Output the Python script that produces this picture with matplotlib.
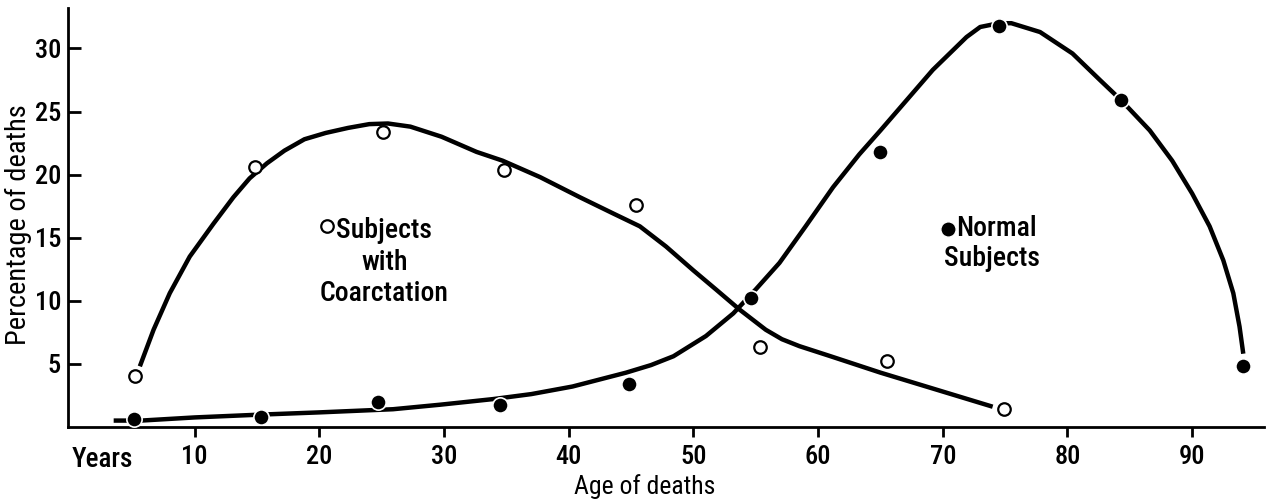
import matplotlib
matplotlib.use("Agg")
import matplotlib.pyplot as plt

plt.rcParams['font.family'] = ['Roboto Condensed', 'DejaVu Sans']
plt.rcParams['font.stretch'] = 'condensed'
plt.rcParams['font.weight'] = 'medium'

# measured points
coarct_x = [5.2, 14.8, 25.1, 34.8, 45.4, 55.3, 65.5, 74.9]
coarct_y = [4.0, 20.6, 23.4, 20.4, 17.6, 6.3, 5.2, 1.4]

normal_x = [5.1, 15.3, 24.7, 34.5, 44.8, 54.6, 65.0, 74.5, 84.3, 94.1]
normal_y = [0.65, 0.8, 1.95, 1.7, 3.4, 10.2, 21.8, 31.8, 25.9, 4.8]

# hand drawn curves
coarct_curve_x = [5.6, 6.7, 8.0, 9.6, 11.5, 13.1, 14.4, 15.8, 17.2, 18.8, 20.5, 22.3,
                  24.0, 25.5, 27.3, 29.8, 32.6, 34.7, 37.7, 40.9, 43.6, 45.7, 47.8,
                  50.0, 51.8, 53.7, 55.8, 57.1, 58.5, 61.0, 65.0, 74.0]
coarct_curve_y = [4.8, 7.7, 10.6, 13.5, 16.1, 18.2, 19.7, 20.9, 21.9, 22.8, 23.3, 23.7,
                  24.0, 24.05, 23.8, 23.0, 21.8, 21.1, 19.8, 18.2, 16.9, 15.9, 14.3,
                  12.4, 10.9, 9.3, 7.7, 6.95, 6.4, 5.6, 4.3, 1.6]

normal_curve_x = [3.5, 5.7, 10, 15.2, 20, 25.9, 29.7, 33.9, 37, 40.3, 44.6, 46.6, 48.4,
                  51.0, 53.2, 55.0, 56.9, 59.0, 61.2, 63.3, 65.0, 67.1, 69.2, 71.9,
                  73.0, 74.5, 75.5, 77.8, 80.4, 82.6, 84.3, 86.6, 88.4, 90.0, 91.4,
                  92.5, 93.3, 93.8, 94.1]
normal_curve_y = [0.5, 0.5, 0.75, 0.97, 1.15, 1.4, 1.76, 2.2, 2.6, 3.2, 4.3, 4.9, 5.6,
                  7.2, 9.0, 10.9, 13.0, 15.9, 19.0, 21.6, 23.5, 25.9, 28.3, 30.9,
                  31.7, 32.0, 32.0, 31.3, 29.6, 27.5, 25.9, 23.5, 21.1, 18.5, 15.9,
                  13.2, 10.6, 7.95, 5.8]

x_ticks = [10, 20, 30, 40, 50, 60, 70, 80, 90]
y_ticks = [5, 10, 15, 20, 25, 30]

fig = plt.figure(figsize=(12.67, 5.04), dpi=100)
ax = fig.add_axes([0.0537, 0.153, 0.9443, 0.831])

ax.plot(coarct_curve_x, coarct_curve_y, color='black', lw=3.2, solid_capstyle='butt',
        solid_joinstyle='round', zorder=2)
ax.plot(normal_curve_x, normal_curve_y, color='black', lw=3.2, solid_capstyle='butt',
        solid_joinstyle='round', zorder=2)

ax.plot(coarct_x, coarct_y, 'o', ms=9, mfc='white', mec='black', mew=1.6, ls='none', zorder=3)
ax.plot(normal_x, normal_y, 'o', ms=11, mfc='black', mec='white', mew=1.2, ls='none', zorder=3)

ax.set_xlim(-0.16, 95.8)
ax.set_ylim(0, 33.2)

for s in ['top', 'right']:
    ax.spines[s].set_visible(False)
for s in ['left', 'bottom']:
    ax.spines[s].set_linewidth(2.0)

ax.set_xticks(x_ticks)
ax.set_yticks(y_ticks)
ax.tick_params(axis='x', direction='out', length=7, width=2, pad=6, labelsize=19)
ax.tick_params(axis='y', direction='in', length=9, width=2, pad=5, labelsize=19)

ax.text(2.6, -0.045, 'Years', transform=ax.get_xaxis_transform(), ha='center', va='top',
        fontsize=19.5)

ax.set_xlabel('Age of deaths', fontsize=18.5)
ax.xaxis.set_label_coords(0.482, -0.112)
ax.set_ylabel('Percentage of deaths', fontsize=20.5)
ax.yaxis.set_label_coords(-0.030, 0.484)

# labels inside the plot
ax.plot([20.6], [15.9], 'o', ms=9, mfc='white', mec='black', mew=1.6)
ax.text(25.2, 16.6, 'Subjects\nwith\nCoarctation', ha='center', va='top', fontsize=20,
        linespacing=1.2)
ax.plot([70.4], [15.7], 'o', ms=11, mfc='black', mec='white', mew=1.0)
ax.text(71.1, 15.7, 'Normal', ha='left', va='center', fontsize=20)
ax.text(70.1, 13.35, 'Subjects', ha='left', va='center', fontsize=20)

fig.savefig('out.png', dpi=100)
